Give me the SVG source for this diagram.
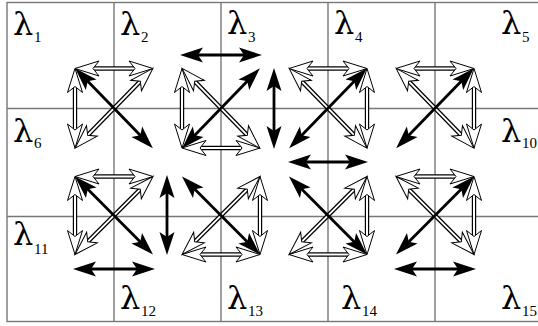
<svg xmlns="http://www.w3.org/2000/svg" width="538" height="326" viewBox="0 0 538 326">
<style>
.grid{fill:none;stroke:#777;stroke-width:1.4}
.l{font-family:"DejaVu Serif","Liberation Serif",serif;font-size:32px;fill:#000}
.s{font-family:"Liberation Serif","Times New Roman",serif;font-size:15px}
.b{stroke:#000;stroke-width:2.8;marker-start:url(#bh);marker-end:url(#bh)}
.ho{stroke:#000;stroke-width:4.4}
.hi{stroke:#fff;stroke-width:2;marker-start:url(#hh);marker-end:url(#hh)}
</style>
<defs>
<marker id="bh" markerUnits="userSpaceOnUse" orient="auto-start-reverse" refX="0" refY="0" markerWidth="30" markerHeight="20" overflow="visible">
<path d="M15,0 L-8,-7.5 L-3,0 L-8,7.5 Z" fill="#000"/>
</marker>
<marker id="hh" markerUnits="userSpaceOnUse" orient="auto-start-reverse" refX="0" refY="0" markerWidth="30" markerHeight="20" overflow="visible">
<path d="M15,0 L-9,-7.5 L-3,0 L-9,7.5 Z" fill="#fff" stroke="#000" stroke-width="1"/>
</marker>
</defs>
<rect width="538" height="326" fill="#fff"/>
<g id="grid" class="grid">
<rect x="7" y="2.5" width="540" height="319"/>
<line x1="114" y1="2.5" x2="114" y2="321.5"/>
<line x1="221" y1="2.5" x2="221" y2="321.5"/>
<line x1="328" y1="2.5" x2="328" y2="321.5"/>
<line x1="435" y1="2.5" x2="435" y2="321.5"/>
<line x1="7" y1="108.5" x2="538" y2="108.5"/>
<line x1="7" y1="216.5" x2="538" y2="216.5"/>
</g>
<g id="cell1"><text class="l" x="13" y="35">λ<tspan class="s" x="34" y="42">1</tspan></text></g>
<g id="cell2"><text class="l" x="120" y="35">λ<tspan class="s" x="141" y="42">2</tspan></text></g>
<g id="cell3"><text class="l" x="227" y="34">λ<tspan class="s" x="248" y="42">3</tspan></text></g>
<g id="cell4"><text class="l" x="334" y="34">λ<tspan class="s" x="355" y="42">4</tspan></text></g>
<g id="cell5"><text class="l" x="501" y="34">λ<tspan class="s" x="522" y="42">5</tspan></text></g>
<g id="cell6"><text class="l" x="13" y="142">λ<tspan class="s" x="34" y="148">6</tspan></text></g>
<g id="cell10"><text class="l" x="501" y="142">λ<tspan class="s" x="522" y="148">10</tspan></text></g>
<g id="cell11"><text class="l" x="13" y="245">λ<tspan class="s" x="34" y="254">11</tspan></text></g>
<g id="cell12"><text class="l" x="120" y="309">λ<tspan class="s" x="141" y="316">12</tspan></text></g>
<g id="cell13"><text class="l" x="227" y="309">λ<tspan class="s" x="248" y="316">13</tspan></text></g>
<g id="cell14"><text class="l" x="341" y="309">λ<tspan class="s" x="362" y="316">14</tspan></text></g>
<g id="cell15"><text class="l" x="501" y="309">λ<tspan class="s" x="522" y="316">15</tspan></text></g>
<g id="connectors">
<g class="ho">
<line x1="90" y1="68.5" x2="138" y2="68.5"/>
<line x1="75" y1="83.5" x2="75" y2="133"/>
<line x1="85.6" y1="137.4" x2="142.4" y2="79.1"/>
<line x1="182" y1="83.5" x2="182" y2="133"/>
<line x1="197" y1="148" x2="245" y2="148"/>
<line x1="192.6" y1="79.1" x2="249.4" y2="137.4"/>
<line x1="304" y1="68.5" x2="352" y2="68.5"/>
<line x1="367" y1="83.5" x2="367" y2="133"/>
<line x1="299.6" y1="79.1" x2="356.4" y2="137.4"/>
<line x1="411" y1="68.5" x2="459" y2="68.5"/>
<line x1="474" y1="83.5" x2="474" y2="133"/>
<line x1="406.6" y1="79.1" x2="463.4" y2="137.4"/>
<line x1="90" y1="176.5" x2="138" y2="176.5"/>
<line x1="75" y1="191.5" x2="75" y2="239.5"/>
<line x1="85.6" y1="243.9" x2="142.4" y2="187.1"/>
<line x1="260" y1="191.5" x2="260" y2="239.5"/>
<line x1="197" y1="254.5" x2="245" y2="254.5"/>
<line x1="192.6" y1="243.9" x2="249.4" y2="187.1"/>
<line x1="367" y1="191.5" x2="367" y2="239.5"/>
<line x1="304" y1="254.5" x2="352" y2="254.5"/>
<line x1="299.6" y1="243.9" x2="356.4" y2="187.1"/>
<line x1="411" y1="176.5" x2="459" y2="176.5"/>
<line x1="474" y1="191.5" x2="474" y2="239.5"/>
<line x1="406.6" y1="187.1" x2="463.4" y2="243.9"/>
</g>
<g class="hi">
<line x1="90" y1="68.5" x2="138" y2="68.5"/>
<line x1="75" y1="83.5" x2="75" y2="133"/>
<line x1="85.6" y1="137.4" x2="142.4" y2="79.1"/>
<line x1="182" y1="83.5" x2="182" y2="133"/>
<line x1="197" y1="148" x2="245" y2="148"/>
<line x1="192.6" y1="79.1" x2="249.4" y2="137.4"/>
<line x1="304" y1="68.5" x2="352" y2="68.5"/>
<line x1="367" y1="83.5" x2="367" y2="133"/>
<line x1="299.6" y1="79.1" x2="356.4" y2="137.4"/>
<line x1="411" y1="68.5" x2="459" y2="68.5"/>
<line x1="474" y1="83.5" x2="474" y2="133"/>
<line x1="406.6" y1="79.1" x2="463.4" y2="137.4"/>
<line x1="90" y1="176.5" x2="138" y2="176.5"/>
<line x1="75" y1="191.5" x2="75" y2="239.5"/>
<line x1="85.6" y1="243.9" x2="142.4" y2="187.1"/>
<line x1="260" y1="191.5" x2="260" y2="239.5"/>
<line x1="197" y1="254.5" x2="245" y2="254.5"/>
<line x1="192.6" y1="243.9" x2="249.4" y2="187.1"/>
<line x1="367" y1="191.5" x2="367" y2="239.5"/>
<line x1="304" y1="254.5" x2="352" y2="254.5"/>
<line x1="299.6" y1="243.9" x2="356.4" y2="187.1"/>
<line x1="411" y1="176.5" x2="459" y2="176.5"/>
<line x1="474" y1="191.5" x2="474" y2="239.5"/>
<line x1="406.6" y1="187.1" x2="463.4" y2="243.9"/>
</g>
<g class="b">
<line x1="85.6" y1="79.1" x2="142.4" y2="137.4"/>
<line x1="192.6" y1="137.4" x2="249.4" y2="79.1"/>
<line x1="299.6" y1="137.4" x2="356.4" y2="79.1"/>
<line x1="406.6" y1="137.4" x2="463.4" y2="79.1"/>
<line x1="85.6" y1="187.1" x2="142.4" y2="243.9"/>
<line x1="192.6" y1="187.1" x2="249.4" y2="243.9"/>
<line x1="299.6" y1="187.1" x2="356.4" y2="243.9"/>
<line x1="406.6" y1="243.9" x2="463.4" y2="187.1"/>
<line x1="195" y1="55" x2="247" y2="55"/>
<line x1="274" y1="83" x2="274" y2="134"/>
<line x1="303" y1="162" x2="353" y2="162"/>
<line x1="167" y1="190" x2="167" y2="240"/>
<line x1="88" y1="269" x2="140" y2="269"/>
<line x1="409" y1="269" x2="461" y2="269"/>
</g>
</g>
</svg>
